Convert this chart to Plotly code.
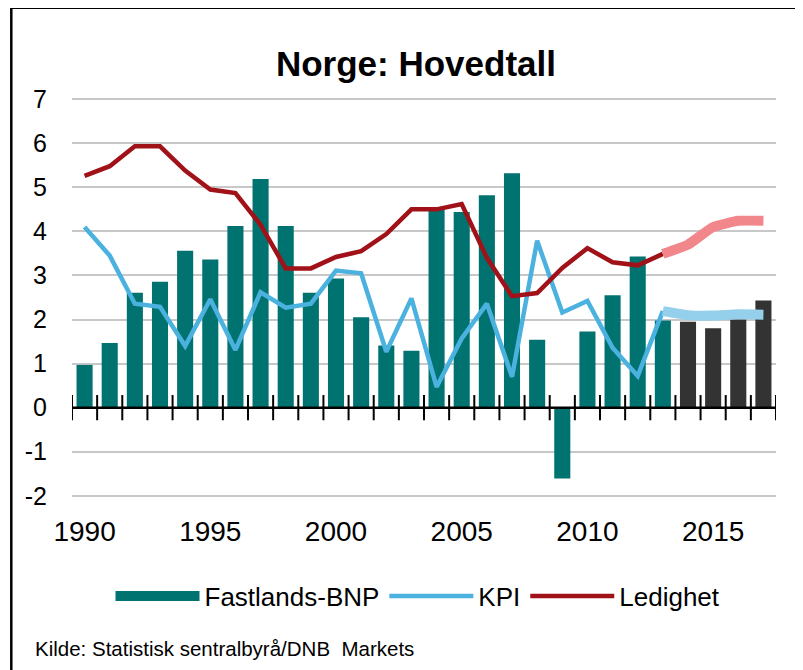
import plotly.graph_objects as go

# ---- data ----
years = list(range(1990, 2018))
bnp = [0.97, 1.47, 2.61, 2.86, 3.56, 3.36, 4.12, 5.19, 4.12, 2.61,
       2.93, 2.05, 1.41, 1.29, 4.49, 4.44, 4.82, 5.32, 1.54, -1.61,
       1.73, 2.55, 3.43, 1.98, 1.95, 1.80, 2.00, 2.43]
forecast_start = 2014  # bars from this year are forecasts

hist_years = list(range(1990, 2014))
kpi_hist = [4.10, 3.45, 2.36, 2.29, 1.40, 2.46, 1.31, 2.62, 2.27, 2.36,
            3.11, 3.05, 1.27, 2.48, 0.47, 1.57, 2.36, 0.70, 3.79, 2.16,
            2.42, 1.36, 0.72, 2.19]
led_hist = [5.26, 5.48, 5.93, 5.93, 5.38, 4.95, 4.87, 4.15, 3.16, 3.16,
            3.42, 3.55, 3.94, 4.50, 4.50, 4.62, 3.40, 2.53, 2.60, 3.17,
            3.62, 3.30, 3.23, 3.49]

fc_years = list(range(2013, 2018))
kpi_fc = [2.19, 2.10, 2.09, 2.12, 2.11]
led_fc = [3.49, 3.70, 4.10, 4.24, 4.24]

xtick_years = [1990, 1995, 2000, 2005, 2010, 2015]
yticks = list(range(-2, 8))

# ---- styling ----
TEAL = "#007370"
DARK = "#333333"
BLUE = "#4BB2E0"
LIGHTBLUE = "#94CFEB"
RED = "#A11218"
PINK = "#F2878B"
FONT = "Liberation Sans, Arial, sans-serif"

OFF = 8  # page body margin
W, H = 803 - OFF, 670 - OFF
L, R, T, B = 72 - OFF, 776 - OFF, 97 - OFF, 498 - OFF
PW, PH = R - L, B - T


def px_x(px):
    """reference page x pixel -> paper coordinate"""
    return (px - OFF - L) / PW


def px_y(py):
    """reference page y pixel -> paper coordinate"""
    return (B - (py - OFF)) / PH


fig = go.Figure()

bar_colors = [TEAL if y < forecast_start else DARK for y in years]
fig.add_trace(go.Bar(x=years, y=bnp, marker=dict(color=bar_colors, line=dict(width=0)),
                     showlegend=False, name="Fastlands-BNP"))

# x axis line at zero with crossing ticks at category boundaries
bounds = [y - 0.5 for y in years] + [years[-1] + 0.5]
fig.add_trace(go.Scatter(x=bounds, y=[0] * len(bounds), mode="lines+markers",
                         line=dict(color="black", width=2.5),
                         marker=dict(symbol="line-ns", size=18,
                                     line=dict(color="black", width=2)),
                         showlegend=False, hoverinfo="skip"))

# legend proxy for bars
fig.add_trace(go.Scatter(x=[None], y=[None], mode="lines",
                         line=dict(color=TEAL, width=12), name="Fastlands-BNP"))

fig.add_trace(go.Scatter(x=hist_years, y=kpi_hist, mode="lines",
                         line=dict(color=BLUE, width=4.5), name="KPI"))
fig.add_trace(go.Scatter(x=fc_years, y=kpi_fc, mode="lines",
                         line=dict(color=LIGHTBLUE, width=10, shape="spline", smoothing=0.4),
                         showlegend=False))
fig.add_trace(go.Scatter(x=hist_years, y=led_hist, mode="lines",
                         line=dict(color=RED, width=4.5), name="Ledighet"))
fig.add_trace(go.Scatter(x=fc_years, y=led_fc, mode="lines",
                         line=dict(color=PINK, width=10, shape="spline", smoothing=0.4),
                         showlegend=False))

fig.update_layout(
    width=W, height=H,
    margin=dict(l=L, r=W - R, t=T, b=H - B),
    paper_bgcolor="white", plot_bgcolor="white",
    font=dict(family=FONT, color="black"),
    bargap=0.36,
    title=dict(text="<b>Norge: Hovedtall</b>", font=dict(size=35, family=FONT, color="black"),
               x=px_x(416), xref="paper", xanchor="center",
               y=1 - (64 - OFF) / H, yref="container", yanchor="middle"),
    xaxis=dict(range=[1989.5, 2017.5], tickvals=xtick_years,
               ticktext=[str(v) for v in xtick_years], ticks="",
               showgrid=False, zeroline=False, showline=False,
               tickfont=dict(size=28, family=FONT), ticklabelstandoff=14),
    yaxis=dict(range=[-2.05, 7.05], tickvals=yticks, ticktext=[str(v) for v in yticks],
               showgrid=True, gridcolor="#C8C8C8", gridwidth=2,
               zeroline=False, showline=False, ticks="",
               tickfont=dict(size=25, family=FONT), ticklabelstandoff=24),
    legend=dict(orientation="h", x=px_x(418), xanchor="center",
                y=px_y(596), yanchor="middle",
                font=dict(size=26, family=FONT), bgcolor="rgba(0,0,0,0)",
                itemwidth=84, traceorder="normal"),
    shapes=[
        dict(type="line", xref="paper", yref="paper",
             x0=px_x(10), x1=px_x(820), y0=px_y(7.5), y1=px_y(7.5),
             line=dict(color="black", width=3)),
        dict(type="line", xref="paper", yref="paper",
             x0=px_x(11.3), x1=px_x(11.3), y0=px_y(6), y1=px_y(690),
             line=dict(color="black", width=2.5)),
    ],
    annotations=[
        dict(text="Kilde: Statistisk sentralbyrå/DNB  Markets", xref="paper", yref="paper",
             x=px_x(33), y=px_y(648), xanchor="left", yanchor="middle",
             showarrow=False, font=dict(size=20.5, family=FONT, color="black")),
    ],
)

fig.write_html("out.html")
